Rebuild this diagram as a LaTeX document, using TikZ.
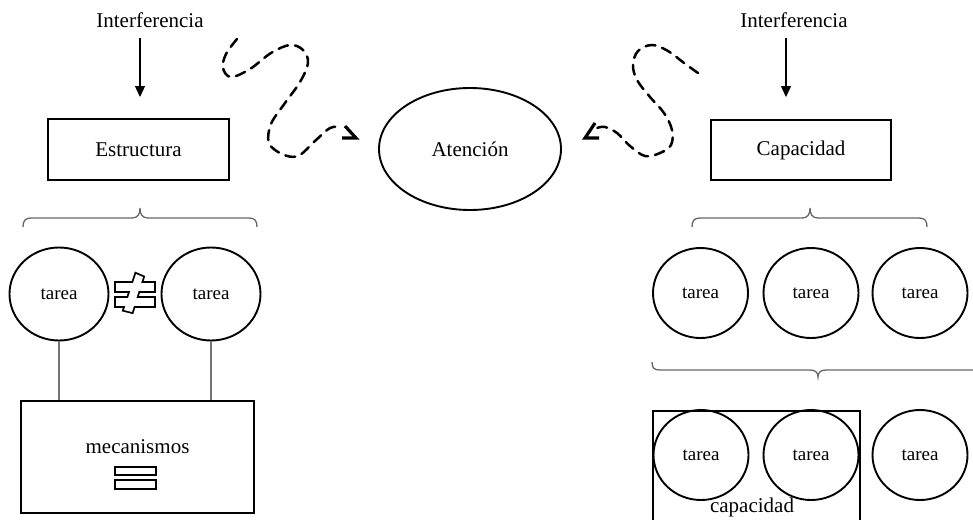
\documentclass[tikz,border=0pt]{standalone}
\usepackage{fontspec}
\setmainfont{Liberation Serif}
\usetikzlibrary{shapes.geometric, arrows.meta}

\begin{document}
\begin{tikzpicture}[x=1pt, y=-1pt,
  lbl/.style={font=\fontsize{21}{24}\selectfont, inner sep=0pt},
  boxnode/.style={draw, line width=1.9pt, inner sep=0pt, font=\fontsize{21}{24}\selectfont},
  task/.style={ellipse, draw, line width=1.9pt, minimum width=95pt, minimum height=90pt,
               inner sep=0pt, font=\fontsize{19}{22}\selectfont},
  link/.style={draw=black!55, line width=1.2pt},
  bracepath/.style={draw=black!60, line width=1.3pt},
  flow/.style={line width=1.2pt, -{Triangle[length=11pt,width=10pt]}},
  wiggle/.style={line width=2.5pt, dash pattern=on 10pt off 7pt, line cap=round},
  wtip/.style={line width=3.2pt, line join=miter},
  glyph/.style={fill=white, draw=black, line width=3.6pt},
]
\useasboundingbox (0,0) rectangle (973,519);

% ---- top row: interference labels, structure / capacity boxes, attention ----
\node[lbl] (inL) at (150,20) {Interferencia};
\node[lbl] (inR) at (794,20) {Interferencia};

\node[boxnode, minimum width=181pt, minimum height=61pt] (estr) at (138.5,149.5) {Estructura};
\node[boxnode, minimum width=180pt, minimum height=60pt] (cap) at (801,150) {Capacidad};
\node[boxnode, ellipse, minimum width=182pt, minimum height=122pt] (aten) at (470,149) {Atención};

\coordinate (dropL) at (140,0);
\coordinate (dropR) at (786,0);
\draw[flow, shorten <=10pt, shorten >=21pt] (inL.south -| dropL) -- (estr.north -| dropL);
\draw[flow, shorten <=10pt, shorten >=22pt] (inR.south -| dropR) -- (cap.north -| dropR);

% ---- dashed wiggles pointing at the attention ellipse ----
\draw[wiggle] plot[smooth, tension=0.6] coordinates {
  (237,39) (226,54) (223,68) (231,77) (250,69) (271,53) (290,45) (303,50)
  (308,63) (300,82) (285,103) (271,124) (269,143) (282,154) (298,156)
  (315,141) (330,128) (341,127)};
\draw[wtip] (345,126) -- (356,138) -- (342,138);

\draw[wiggle] plot[smooth, tension=0.6] coordinates {
  (698,73) (684,63) (668,51) (652,45) (638,51) (633,65) (637,80) (650,97)
  (664,113) (672,130) (671,145) (660,153) (645,156) (630,146) (617,133)
  (605,127) (597,128)};
\draw[wtip] (595,123) -- (585,138) -- (599,138);

% ---- braces ----
\draw[bracepath] (23,227) .. controls (23,221) and (25,218) .. (31,218) -- (132,218)
  .. controls (138,218) and (140,214) .. (140,208)
  .. controls (140,214) and (142,218) .. (148,218) -- (249,218)
  .. controls (255,218) and (257,221) .. (257,227);
\draw[bracepath] (692,227) .. controls (692,221) and (694,218) .. (700,218) -- (802,218)
  .. controls (808,218) and (810,214) .. (810,208)
  .. controls (810,214) and (812,218) .. (818,218) -- (919,218)
  .. controls (925,218) and (927,221) .. (927,227);
\draw[bracepath] (652,362) .. controls (652,368) and (654,370) .. (660,370) -- (810,370)
  .. controls (816,370) and (818,373) .. (818,377)
  .. controls (818,373) and (820,370) .. (826,370) -- (975,370);

% ---- structure side: two tasks, not-equal sign, mechanisms ----
\node[task, minimum width=99pt, minimum height=93pt] (t1) at (59,294) {tarea};
\node[task, minimum width=99pt, minimum height=93pt] (t2) at (211,294) {tarea};

% outlined not-equal sign: stroke each piece, then clear the insides
\filldraw[glyph] (116,283) rectangle (154,291);
\filldraw[glyph] (116,298) rectangle (154,306);
\filldraw[glyph] (124,310) -- (132,312) -- (143,277) -- (136,274) -- cycle;
\fill[white] (116,283) rectangle (154,291);
\fill[white] (116,298) rectangle (154,306);
\fill[white] (124,310) -- (132,312) -- (143,277) -- (136,274) -- cycle;

\node[boxnode, minimum width=233pt, minimum height=112pt] (mec) at (137.5,457) {};
\node[lbl] (mectxt) at ([yshift=10pt]mec.center) {mecanismos};
\draw[line width=1.9pt] (115,467) rectangle (156,475);
\draw[line width=1.9pt] (115,480) rectangle (156,489);

\draw[link] (t1.south) -- (t1.south |- mec.north);
\draw[link] (t2.south) -- (t2.south |- mec.north);

% ---- capacity side: three tasks, then two of them inside the capacity ----
\node[task] (c1) at (700.5,293) {tarea};
\node[task] (c2) at (811,293) {tarea};
\node[task] (c3) at (920,293) {tarea};

\draw[line width=1.9pt] (653,530) -- (653,411) -- (860,411) -- (860,530);
\node[task] (d1) at (701,455) {tarea};
\node[task] (d2) at (811,455) {tarea};
\node[task] (d3) at (920,455) {tarea};
\node[lbl] (captxt) at (752,507) {capacidad};

\end{tikzpicture}
\end{document}
